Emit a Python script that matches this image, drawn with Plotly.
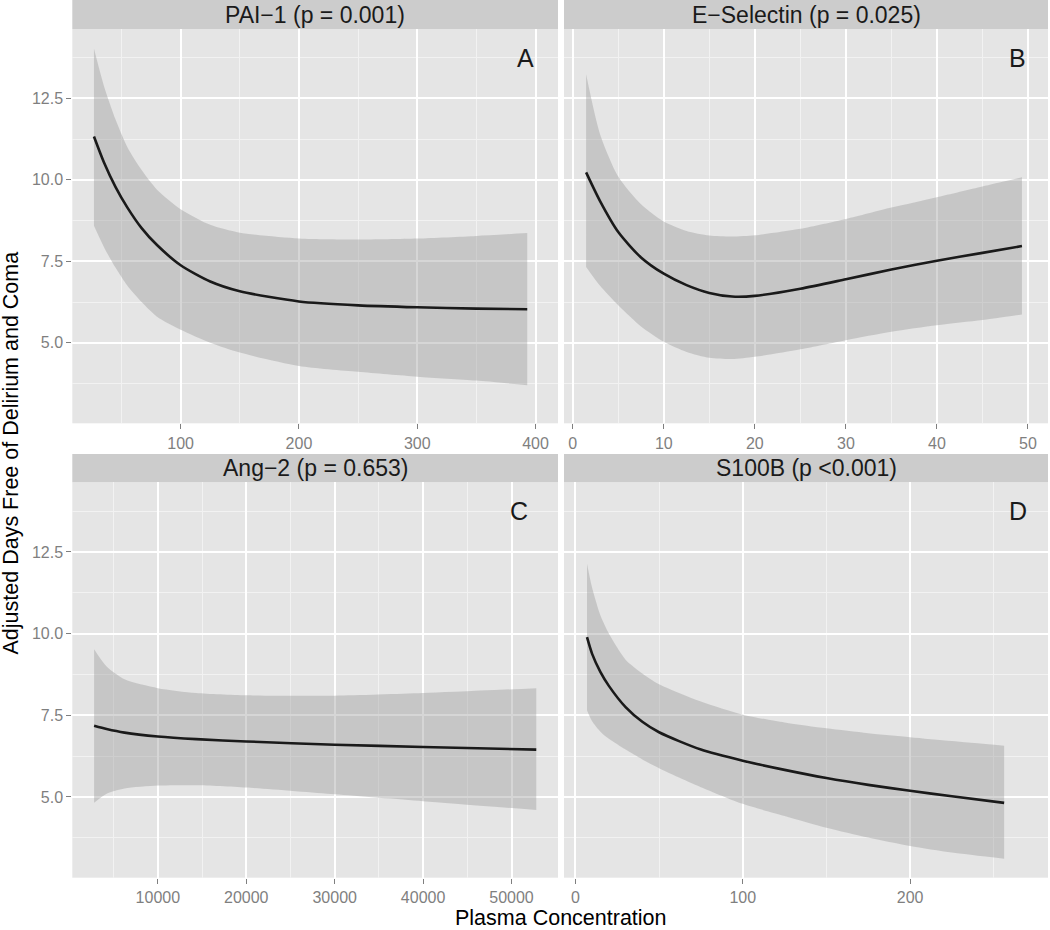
import plotly.graph_objects as go

# ---------------- data ----------------
strip_titles = ["PAI\u22121 (p = 0.001)", "E\u2212Selectin (p = 0.025)",
                "Ang\u22122 (p = 0.653)", "S100B (p <0.001)"]
panel_letters = ["A", "B", "C", "D"]
letter_x = [391.5, 48.9, 50800, 264.5]
letter_y = [13.75, 13.75, 13.75, 13.75]

# Panel A : PAI-1
a_x = [26.7, 35, 45, 55, 67, 80, 100, 125, 150, 200, 250, 300, 350, 393]
a_fit = [11.33, 10.55, 9.78, 9.15, 8.52, 8.0, 7.38, 6.88, 6.58, 6.27, 6.15, 6.09, 6.05, 6.03]
a_hi = [14.03, 12.9, 11.85, 11.0, 10.3, 9.7, 9.1, 8.62, 8.38, 8.2, 8.17, 8.2, 8.28, 8.37]
a_lo = [8.59, 7.95, 7.3, 6.75, 6.25, 5.8, 5.4, 5.0, 4.7, 4.29, 4.11, 3.96, 3.84, 3.70]

# Panel B : E-Selectin
b_x = [1.47, 3, 5, 7.5, 10, 12.5, 15, 17.5, 20, 25, 30, 35, 40, 45, 49.34]
b_fit = [10.23, 9.35, 8.4, 7.62, 7.12, 6.77, 6.53, 6.42, 6.44, 6.66, 6.95, 7.25, 7.52, 7.76, 7.97]
b_hi = [13.24, 11.4, 10.1, 9.25, 8.72, 8.43, 8.29, 8.26, 8.3, 8.5, 8.8, 9.15, 9.47, 9.8, 10.08]
b_lo = [7.33, 6.75, 6.15, 5.5, 5.03, 4.72, 4.54, 4.5, 4.57, 4.8, 5.08, 5.34, 5.54, 5.7, 5.87]

# Panel C : Ang-2
c_x = [2793, 4210, 6234, 10000, 14332, 20000, 30000, 40000, 52798]
c_fit = [7.18, 7.08, 6.97, 6.85, 6.77, 6.70, 6.60, 6.53, 6.45]
c_hi = [9.52, 8.99, 8.6, 8.33, 8.18, 8.11, 8.10, 8.18, 8.33]
c_lo = [4.82, 5.1, 5.26, 5.35, 5.36, 5.29, 5.08, 4.87, 4.60]

# Panel D : S100B
d_x = [6.95, 10, 15, 20, 30, 40, 50, 75, 100, 125, 150, 175, 200, 225, 256.2]
d_fit = [9.89, 9.38, 8.82, 8.4, 7.75, 7.3, 6.98, 6.45, 6.11, 5.83, 5.58, 5.37, 5.19, 5.02, 4.82]
d_hi = [12.14, 11.4, 10.55, 10.0, 9.2, 8.78, 8.45, 7.92, 7.52, 7.28, 7.1, 6.95, 6.83, 6.71, 6.57]
d_lo = [7.65, 7.32, 7.0, 6.78, 6.45, 6.15, 5.88, 5.3, 4.79, 4.42, 4.06, 3.76, 3.5, 3.3, 3.11]

x_ranges = [[8.4, 419], [-0.96, 52.2], [328, 55255], [-6.8, 282.4]]
x_major = [[100, 200, 300, 400], [0, 10, 20, 30, 40, 50],
           [10000, 20000, 30000, 40000, 50000], [0, 100, 200]]
x_minor = [[50, 150, 250, 350], [5, 15, 25, 35, 45],
           [5000, 15000, 25000, 35000, 45000], [50, 150, 250]]
y_range = [2.53, 14.63]
y_major = [5.0, 7.5, 10.0, 12.5]
y_major_text = ["5.0", "7.5", "10.0", "12.5"]
y_minor = [3.75, 6.25, 8.75, 11.25, 13.75]

x_title = "Plasma Concentration"
y_title = "Adjusted Days Free of Delirium and Coma"

panels = [(a_x, a_fit, a_hi, a_lo), (b_x, b_fit, b_hi, b_lo),
          (c_x, c_fit, c_hi, c_lo), (d_x, d_fit, d_hi, d_lo)]

# ---------------- layout geometry (pixels) ----------------
W, H = 1050, 930
col_px = [(72.3, 558.0), (564.0, 1048.0)]
row_px = [(29.0, 423.3), (482.3, 877.7)]      # plot areas
strip_px = [(0.0, 29.0), (454.0, 482.3)]

FONT = "Liberation Sans, Arial, Helvetica, sans-serif"
BG = "#E5E5E5"
GRID_MINOR = "#F2F2F2"
TICK_GREY = "#7F7F7F"
RIBBON = "rgba(153,153,153,0.4)"
LINE = "#1A1A1A"

fig = go.Figure()
layout = dict(width=W, height=H, margin=dict(l=0, r=0, t=0, b=0, autoexpand=False),
              paper_bgcolor="white", plot_bgcolor=BG, showlegend=False,
              font=dict(family=FONT), shapes=[], annotations=[])

for i, (xs, fit, hi, lo) in enumerate(panels):
    r, c = divmod(i, 2)
    n = i + 1
    xa = "x" if n == 1 else f"x{n}"
    ya = "y" if n == 1 else f"y{n}"
    fig.add_trace(go.Scatter(x=xs, y=lo, mode="lines", xaxis=xa, yaxis=ya,
                             line=dict(width=0, shape="spline", smoothing=0.7),
                             hoverinfo="skip"))
    fig.add_trace(go.Scatter(x=xs, y=hi, mode="lines", xaxis=xa, yaxis=ya,
                             fill="tonexty", fillcolor=RIBBON,
                             line=dict(width=0, shape="spline", smoothing=0.7),
                             hoverinfo="skip"))
    fig.add_trace(go.Scatter(x=xs, y=fit, mode="lines", xaxis=xa, yaxis=ya,
                             line=dict(color=LINE, width=2.6, shape="spline", smoothing=0.7)))

    x0, x1 = col_px[c]
    y0, y1 = row_px[r]
    xdom = [x0 / W, x1 / W]
    ydom = [1 - y1 / H, 1 - y0 / H]
    xkey = "xaxis" if n == 1 else f"xaxis{n}"
    ykey = "yaxis" if n == 1 else f"yaxis{n}"
    layout[xkey] = dict(domain=xdom, anchor=ya, range=x_ranges[i], automargin=False,
                        tickmode="array", tickvals=x_major[i],
                        ticktext=[str(v) for v in x_major[i]],
                        showgrid=True, gridcolor="white", gridwidth=1.8,
                        zeroline=False, showline=False,
                        ticks="outside", ticklen=5, tickwidth=1, tickcolor=TICK_GREY,
                        tickfont=dict(size=16, color=TICK_GREY, family=FONT),
                        minor=dict(tickmode="array", tickvals=x_minor[i], showgrid=True,
                                   gridcolor=GRID_MINOR, gridwidth=1, ticks=""))
    layout[ykey] = dict(domain=ydom, anchor=xa, range=y_range, automargin=False,
                        tickmode="array", tickvals=y_major, ticktext=y_major_text,
                        showgrid=True, gridcolor="white", gridwidth=1.8,
                        zeroline=False, showline=False,
                        showticklabels=(c == 0),
                        ticks="outside" if c == 0 else "", ticklen=5, tickwidth=1,
                        tickcolor=TICK_GREY,
                        tickfont=dict(size=16, color=TICK_GREY, family=FONT),
                        minor=dict(tickmode="array", tickvals=y_minor, showgrid=True,
                                   gridcolor=GRID_MINOR, gridwidth=1, ticks=""))

    # strip
    s0, s1 = strip_px[r]
    layout["shapes"].append(dict(type="rect", xref="paper", yref="paper",
                                 x0=x0 / W, x1=x1 / W, y0=1 - s1 / H, y1=1 - s0 / H,
                                 fillcolor="#CCCCCC", line=dict(width=0), layer="below"))
    layout["annotations"].append(dict(text=strip_titles[i], xref="paper", yref="paper",
                                      x=(x0 + x1) / 2 / W, y=1 - (s0 + s1) / 2 / H,
                                      xanchor="center", yanchor="middle", showarrow=False,
                                      font=dict(size=23, color="#1A1A1A", family=FONT)))
    # panel letter
    layout["annotations"].append(dict(text=panel_letters[i], xref=xa, yref=ya,
                                      x=letter_x[i], y=letter_y[i],
                                      xanchor="center", yanchor="middle", showarrow=False,
                                      font=dict(size=25, color="#1A1A1A", family=FONT)))

layout["annotations"].append(dict(text=x_title, xref="paper", yref="paper",
                                  x=561 / W, y=0, xanchor="center", yanchor="bottom",
                                  yshift=-2,
                                  showarrow=False, font=dict(size=21.5, color="black", family=FONT)))
layout["annotations"].append(dict(text=y_title, xref="paper", yref="paper",
                                  x=0, y=1 - 453.5 / H, xanchor="left", yanchor="middle",
                                  xshift=-3, textangle=-90, showarrow=False,
                                  font=dict(size=21.5, color="black", family=FONT)))

fig.update_layout(**layout)
fig.write_html("out.html", config={"displayModeBar": False},
               post_script="document.body.style.margin='0px';document.body.style.padding='0px';")
